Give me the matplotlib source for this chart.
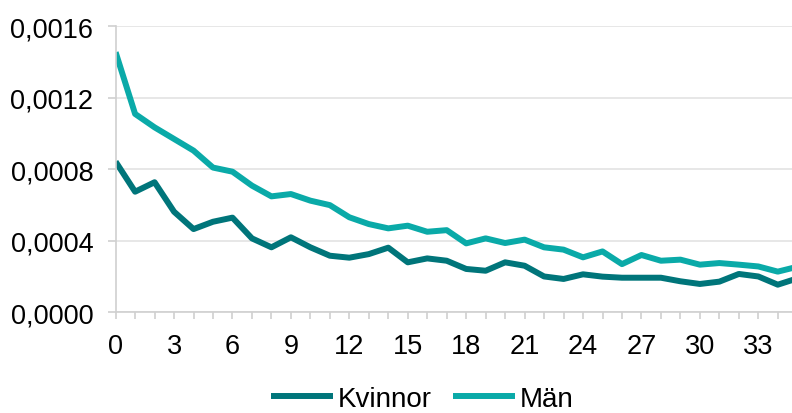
import matplotlib
matplotlib.use("Agg")
import matplotlib.pyplot as plt
from matplotlib.ticker import FuncFormatter, MultipleLocator

plt.rcParams['font.family'] = ['Liberation Sans', 'DejaVu Sans']

x = list(range(36))
kvinnor = [8.43, 6.75, 7.28, 5.63, 4.66, 5.07, 5.30, 4.14, 3.64, 4.20,
           3.64, 3.17, 3.06, 3.26, 3.62, 2.80, 3.02, 2.89, 2.43, 2.33,
           2.80, 2.61, 2.01, 1.87, 2.13, 2.00, 1.94, 1.94, 1.94, 1.74,
           1.59, 1.72, 2.15, 2.01, 1.55, 1.90]
man = [14.55, 11.10, 10.35, 9.70, 9.05, 8.10, 7.87, 7.09, 6.49, 6.62,
       6.25, 6.00, 5.32, 4.94, 4.70, 4.85, 4.51, 4.60, 3.86, 4.14,
       3.88, 4.07, 3.64, 3.51, 3.08, 3.41, 2.70, 3.21, 2.89, 2.95,
       2.67, 2.76, 2.67, 2.57, 2.28, 2.55]
kvinnor = [v * 1e-4 for v in kvinnor]
man = [v * 1e-4 for v in man]

fig = plt.figure(figsize=(7.92, 4.14), dpi=100)
ax = fig.add_axes([0.146, 0.243, 0.854, 0.691])

ax.plot(x, kvinnor, color='#00757a', lw=4.3, label='Kvinnor', solid_capstyle='butt')
ax.plot(x, man, color='#0aaaa8', lw=4.3, label='Män', solid_capstyle='butt')

ax.set_xlim(0, 34.73)
ax.set_ylim(0, 0.0016)
ax.yaxis.set_major_locator(MultipleLocator(0.0004))
ax.yaxis.set_major_formatter(FuncFormatter(lambda v, p: f"{v:.4f}".replace('.', ',')))
ax.xaxis.set_major_locator(MultipleLocator(3))
ax.xaxis.set_minor_locator(MultipleLocator(1))
ax.grid(axis='y', color='#e3e3e3', lw=1.2)
ax.set_axisbelow(True)

for s in ['top', 'right']:
    ax.spines[s].set_visible(False)
for s in ['left', 'bottom']:
    ax.spines[s].set_color('#d0d0d0')
    ax.spines[s].set_linewidth(1.2)

ax.tick_params(axis='both', which='both', color='#d0d0d0', width=1.2, labelsize=19.5)
ax.tick_params(axis='x', which='both', length=5, direction='out', pad=10)
ax.tick_params(axis='y', length=6, pad=10)

fig.legend(*ax.get_legend_handles_labels(), loc='center left',
           bbox_to_anchor=(0.342, 0.034), ncol=2, frameon=False,
           fontsize=20, handlelength=2.23, handletextpad=0.18, columnspacing=0.75,
           borderpad=0, borderaxespad=0)

fig.savefig('out.png', dpi=100)
